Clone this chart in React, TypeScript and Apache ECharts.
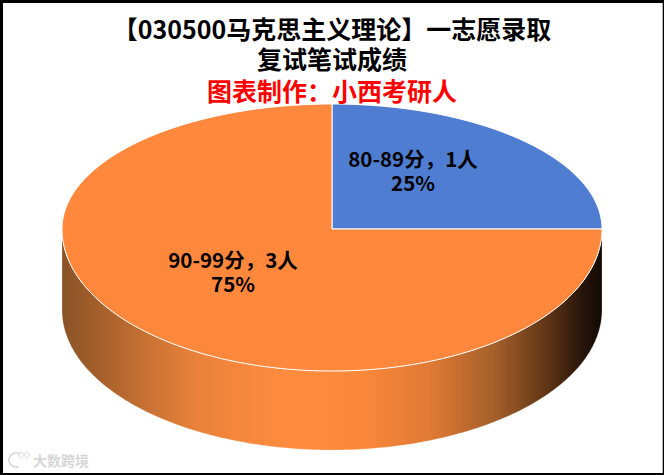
import React, { useEffect, useRef } from "react";
import * as echarts from "echarts";

const categories = ["80-89分", "90-99分"];
const people = [1, 3];
const sliceColors = ["#4e7dd1", "#ff883c"];
const titleLines = "【030500马克思主义理论】一志愿录取\n复试笔试成绩";
const subtitle = "图表制作：小西考研人";
const watermark = "大数跨境";

const FONT = '"Noto Sans CJK SC", sans-serif';
const CX = 332;
const TOP_CY = 229;
const RX = 270;
const RY_BACK = 125;
const RY_FRONT = 142;
const BOTTOM_CY = 310;
const BOTTOM_RY = 140;
const LABEL_POS = [
  [413, 170],
  [233, 271],
];

const total = people.reduce((a, b) => a + b, 0);
const spans: [number, number][] = [];
people.reduce((acc, v) => {
  spans.push([acc, acc + v]);
  return acc + v;
}, 0);

const deg = (v: number) => (v / total) * 360;

function topPoint(d: number): number[] {
  const t = (d * Math.PI) / 180;
  const c = Math.cos(t);
  return [CX + RX * Math.sin(t), TOP_CY - (c >= 0 ? RY_BACK : RY_FRONT) * c];
}

function bottomPoint(d: number): number[] {
  const t = (d * Math.PI) / 180;
  return [CX + RX * Math.sin(t), BOTTOM_CY - BOTTOM_RY * Math.cos(t)];
}

const sideGradient = {
  type: "linear",
  x: 62,
  y: 0,
  x2: 602,
  y2: 0,
  global: true,
  colorStops: [
    { offset: 0, color: "#8a5228" },
    { offset: 0.07, color: "#a5602b" },
    { offset: 0.16, color: "#c97234" },
    { offset: 0.26, color: "#ec833a" },
    { offset: 0.42, color: "#ff8c3e" },
    { offset: 0.55, color: "#fb883b" },
    { offset: 0.68, color: "#e07a34" },
    { offset: 0.8, color: "#a5602b" },
    { offset: 0.9, color: "#5e3415" },
    { offset: 0.97, color: "#22120a" },
    { offset: 1, color: "#120a04" },
  ],
};

function renderSide(params: any) {
  const i = params.dataIndex;
  const a = Math.max(deg(spans[i][0]), 90);
  const b = Math.min(deg(spans[i][1]), 270);
  if (b <= a) return { type: "group", children: [] };
  const pts: number[][] = [];
  for (let d = a; d <= b; d += 1) pts.push(bottomPoint(d));
  for (let d = b; d >= a; d -= 1) pts.push(topPoint(d));
  return {
    type: "polygon",
    shape: { points: pts },
    style: { fill: sideGradient, stroke: "rgba(255,236,220,0.5)", lineWidth: 0.5 },
  };
}

function renderTop(params: any) {
  const i = params.dataIndex;
  const a = deg(spans[i][0]);
  const b = deg(spans[i][1]);
  const pts: number[][] = [[CX, TOP_CY]];
  for (let d = a; d <= b; d += 1) pts.push(topPoint(d));
  return {
    type: "group",
    children: [
      {
        type: "polygon",
        shape: { points: pts },
        style: { fill: sliceColors[i], stroke: "#ffffff", lineWidth: 1, lineJoin: "round" },
      },
      {
        type: "text",
        z2: 10,
        style: {
          x: LABEL_POS[i][0],
          y: LABEL_POS[i][1],
          text: `${categories[i]}，${people[i]}人\n${Math.round((people[i] / total) * 100)}%`,
          fill: "#000000",
          font: `bold 20.5px ${FONT}`,
          lineHeight: 24,
          align: "center",
          verticalAlign: "middle",
        },
      },
    ],
  };
}

export default function App() {
  const ref = useRef<HTMLDivElement>(null);
  useEffect(() => {
    const chart = echarts.init(ref.current!, undefined, { renderer: "svg" });
    const data = categories.map((name, i) => ({ name, value: people[i] }));
    chart.setOption({
      animation: false,
      backgroundColor: "#ffffff",
      title: {
        text: titleLines,
        subtext: subtitle,
        left: "center",
        top: 8,
        itemGap: 2,
        textStyle: { fontFamily: FONT, fontSize: 25, fontWeight: "bold", color: "#000000", lineHeight: 30 },
        subtextStyle: { fontFamily: FONT, fontSize: 25, fontWeight: "bold", color: "#ff0000", lineHeight: 30 },
      },
      graphic: [
        {
          type: "rect",
          shape: { x: 1.5, y: 1.5, width: 662.7, height: 473 },
          style: { fill: "none", stroke: "#000000", lineWidth: 3 },
          z: 100,
        },
        {
          type: "arc",
          shape: { cx: 16, cy: 460, r: 7, startAngle: 1.2, endAngle: 5.4, clockwise: true },
          style: { fill: "none", stroke: "#dcdcdc", lineWidth: 2 },
          z: 100,
        },
        {
          type: "circle",
          shape: { cx: 21, cy: 455, r: 2.5 },
          style: { fill: "none", stroke: "#dcdcdc", lineWidth: 1 },
          z: 100,
        },
        {
          type: "circle",
          shape: { cx: 27, cy: 455, r: 2.5 },
          style: { fill: "none", stroke: "#dcdcdc", lineWidth: 1 },
          z: 100,
        },
        {
          type: "text",
          x: 33,
          y: 453,
          style: { text: watermark, fill: "#d6d6d6", font: `bold 14px ${FONT}` },
          z: 100,
        },
      ],
      series: [
        { type: "custom", coordinateSystem: "none", data, renderItem: renderSide, z: 1, silent: true },
        { type: "custom", coordinateSystem: "none", data, renderItem: renderTop, z: 2, silent: true },
      ],
    });
    return () => chart.dispose();
  }, []);
  return (
    <div style={{ position: "fixed", left: 0, top: 0, width: 664, height: 475 }}>
      <div ref={ref} style={{ width: 664, height: 475 }} />
    </div>
  );
}
